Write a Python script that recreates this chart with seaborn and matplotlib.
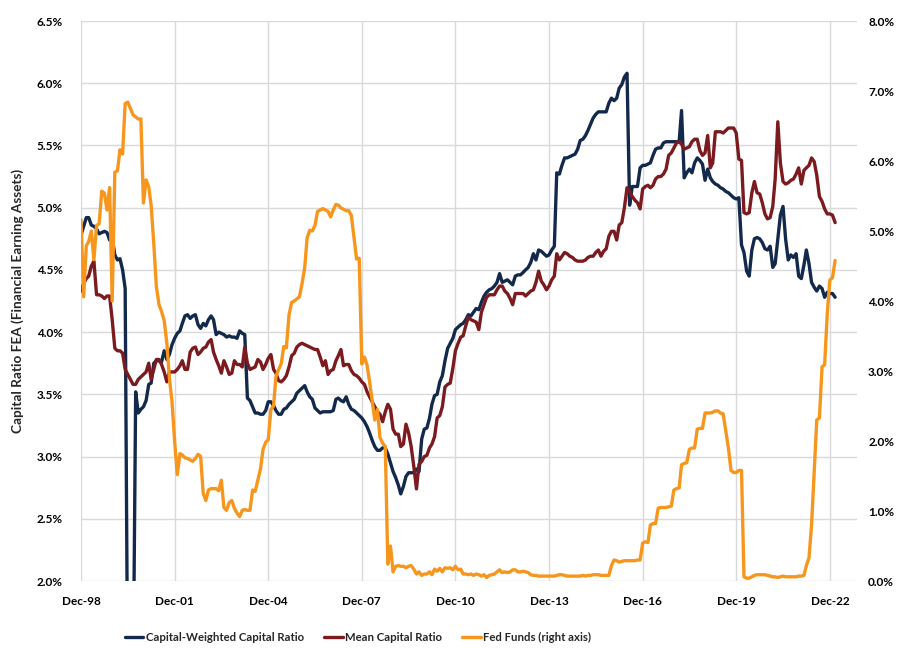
# Capital ratios vs Fed Funds, monthly Dec-98 .. Feb-23
import pandas as pd
import matplotlib
matplotlib.use("Agg")
import matplotlib.pyplot as plt
import matplotlib.dates as mdates
from matplotlib.ticker import FuncFormatter
import seaborn as sns

# ------------------------------------------------------------
# DATA (monthly, first point Dec-98)
# ------------------------------------------------------------
START = "1998-12-01"

cap_weighted = [
    4.78, 4.85, 4.92, 4.92, 4.86, 4.85, 4.83, 4.79, 4.80, 4.81, 4.80, 4.74,
    4.76, 4.62, 4.58, 4.59, 4.50, 4.35, 1.00, 1.00, 1.00, 3.52, 3.35, 3.38,
    3.40, 3.45, 3.58, 3.59, 3.75, 3.77, 3.77, 3.76, 3.85, 3.78, 3.82, 3.90,
    3.95, 3.99, 4.01, 4.07, 4.13, 4.14, 4.11, 4.13, 4.14, 4.06, 4.03, 4.07,
    4.05, 4.10, 4.13, 4.10, 3.98, 4.00, 3.99, 3.98, 3.96, 3.97, 3.96, 3.96,
    3.95, 4.01, 3.99, 3.98, 3.47, 3.45, 3.40, 3.35, 3.35, 3.34, 3.34, 3.37,
    3.44, 3.44, 3.41, 3.37, 3.34, 3.34, 3.38, 3.39, 3.42, 3.44, 3.46, 3.51,
    3.53, 3.55, 3.57, 3.52, 3.48, 3.46, 3.39, 3.37, 3.35, 3.36, 3.36, 3.36,
    3.36, 3.37, 3.46, 3.47, 3.45, 3.44, 3.48, 3.42, 3.38, 3.37, 3.35, 3.33,
    3.31, 3.28, 3.24, 3.19, 3.13, 3.08, 3.05, 3.05, 3.07, 3.07, 3.02, 2.95,
    2.88, 2.83, 2.77, 2.70, 2.76, 2.84, 2.87, 2.87, 2.87, 2.90, 2.88, 3.14,
    3.22, 3.23, 3.31, 3.42, 3.49, 3.50, 3.60, 3.65, 3.77, 3.87, 3.91, 3.95,
    4.02, 4.04, 4.06, 4.07, 4.10, 4.14, 4.13, 4.16, 4.19, 4.18, 4.24, 4.29,
    4.32, 4.34, 4.35, 4.37, 4.40, 4.47, 4.40, 4.41, 4.42, 4.40, 4.38, 4.45,
    4.46, 4.46, 4.48, 4.50, 4.52, 4.56, 4.63, 4.58, 4.66, 4.65, 4.63, 4.61,
    4.62, 4.66, 4.69, 5.28, 5.27, 5.34, 5.40, 5.40, 5.41, 5.42, 5.43, 5.47,
    5.54, 5.55, 5.58, 5.62, 5.67, 5.72, 5.75, 5.77, 5.77, 5.77, 5.77, 5.84,
    5.88, 5.86, 5.88, 5.96, 5.99, 6.05, 6.08, 5.02, 5.17, 5.17, 5.17, 5.32,
    5.34, 5.34, 5.35, 5.36, 5.42, 5.47, 5.48, 5.48, 5.52, 5.53, 5.53, 5.53,
    5.53, 5.53, 5.53, 5.78, 5.24, 5.28, 5.31, 5.28, 5.36, 5.40, 5.38, 5.35,
    5.22, 5.31, 5.24, 5.21, 5.19, 5.18, 5.16, 5.15, 5.13, 5.12, 5.10, 5.08,
    5.07, 5.08, 4.70, 4.64, 4.49, 4.45, 4.66, 4.75, 4.76, 4.75, 4.72, 4.67,
    4.66, 4.69, 4.52, 4.55, 4.75, 4.94, 5.01, 4.75, 4.58, 4.62, 4.60, 4.63,
    4.45, 4.43, 4.54, 4.66, 4.55, 4.40, 4.36, 4.33, 4.37, 4.35, 4.28, 4.32,
    4.31, 4.31, 4.28,
]

mean_ratio = [
    4.33, 4.39, 4.43, 4.45, 4.53, 4.57, 4.30, 4.30, 4.29, 4.27, 4.29, 4.29,
    4.10, 3.87, 3.85, 3.85, 3.83, 3.70, 3.66, 3.62, 3.58, 3.58, 3.62, 3.64,
    3.66, 3.68, 3.75, 3.62, 3.70, 3.78, 3.78, 3.74, 3.68, 3.60, 3.68, 3.68,
    3.68, 3.70, 3.73, 3.77, 3.70, 3.70, 3.84, 3.87, 3.88, 3.82, 3.84, 3.87,
    3.88, 3.92, 3.94, 3.84, 3.78, 3.73, 3.67, 3.77, 3.72, 3.66, 3.67, 3.77,
    3.74, 3.74, 3.72, 3.88, 3.75, 3.70, 3.71, 3.72, 3.78, 3.76, 3.70, 3.74,
    3.79, 3.82, 3.70, 3.67, 3.61, 3.60, 3.62, 3.65, 3.72, 3.81, 3.83, 3.88,
    3.90, 3.91, 3.90, 3.89, 3.88, 3.87, 3.86, 3.86, 3.80, 3.73, 3.77, 3.66,
    3.69, 3.70, 3.77, 3.81, 3.86, 3.73, 3.74, 3.74, 3.69, 3.66, 3.65, 3.63,
    3.60, 3.58, 3.52, 3.48, 3.44, 3.40, 3.36, 3.34, 3.28, 3.36, 3.42, 3.38,
    3.22, 3.18, 3.18, 3.08, 3.10, 3.26, 3.19, 3.08, 2.92, 2.74, 2.94, 2.96,
    3.00, 3.01, 3.07, 3.10, 3.16, 3.31, 3.33, 3.40, 3.56, 3.58, 3.59, 3.71,
    3.85, 3.91, 3.96, 3.97, 4.05, 4.12, 4.10, 4.09, 4.08, 4.02, 4.16, 4.22,
    4.28, 4.30, 4.30, 4.30, 4.34, 4.37, 4.37, 4.33, 4.31, 4.27, 4.22, 4.31,
    4.31, 4.31, 4.31, 4.29, 4.31, 4.33, 4.34, 4.40, 4.49, 4.41, 4.38, 4.34,
    4.37, 4.42, 4.45, 4.63, 4.58, 4.61, 4.64, 4.63, 4.61, 4.60, 4.58, 4.57,
    4.57, 4.57, 4.58, 4.60, 4.61, 4.61, 4.64, 4.66, 4.61, 4.65, 4.67, 4.77,
    4.81, 4.81, 4.74, 4.86, 4.88, 5.00, 5.16, 5.13, 5.09, 5.06, 5.04, 4.99,
    5.15, 5.17, 5.18, 5.16, 5.18, 5.23, 5.25, 5.25, 5.27, 5.31, 5.42, 5.44,
    5.48, 5.52, 5.53, 5.51, 5.47, 5.48, 5.49, 5.53, 5.55, 5.55, 5.46, 5.42,
    5.44, 5.58, 5.32, 5.36, 5.61, 5.61, 5.61, 5.60, 5.62, 5.64, 5.64, 5.64,
    5.60, 5.39, 5.38, 4.96, 4.95, 4.96, 5.12, 5.21, 5.12, 5.11, 5.04, 4.95,
    4.91, 4.92, 5.01, 5.23, 5.69, 5.36, 5.21, 5.19, 5.20, 5.22, 5.23, 5.27,
    5.32, 5.19, 5.30, 5.32, 5.34, 5.40, 5.37, 5.26, 5.09, 5.05, 4.99, 4.95,
    4.95, 4.94, 4.88,
]

fed_funds = [
    5.16, 4.06, 4.79, 4.85, 5.00, 4.59, 5.08, 5.10, 5.57, 5.54, 5.30, 5.62,
    4.00, 5.84, 5.86, 6.16, 6.10, 6.82, 6.84, 6.75, 6.66, 6.63, 6.60, 6.60,
    5.40, 5.73, 5.63, 5.37, 4.82, 4.21, 3.95, 3.85, 3.72, 3.40, 2.90, 2.55,
    2.00, 1.52, 1.82, 1.80, 1.76, 1.75, 1.73, 1.71, 1.75, 1.81, 1.78, 1.25,
    1.15, 1.30, 1.32, 1.32, 1.32, 1.29, 1.44, 1.05, 1.01, 1.12, 1.15, 1.04,
    0.97, 0.92, 1.01, 1.02, 1.01, 1.01, 1.30, 1.28, 1.44, 1.60, 1.88, 1.98,
    2.02, 2.45, 2.50, 2.92, 3.02, 3.10, 3.35, 3.33, 3.80, 3.98, 4.00, 4.03,
    4.06, 4.25, 4.48, 4.90, 5.01, 5.00, 5.08, 5.28, 5.30, 5.32, 5.30, 5.28,
    5.20, 5.30, 5.38, 5.37, 5.33, 5.31, 5.29, 5.29, 5.22, 4.90, 4.60, 4.61,
    3.10, 3.20, 3.08, 2.85, 2.57, 2.30, 2.45, 2.05, 1.97, 1.92, 0.24, 0.50,
    0.13, 0.21, 0.22, 0.21, 0.21, 0.19, 0.21, 0.22, 0.17, 0.10, 0.13, 0.08,
    0.10, 0.10, 0.13, 0.09, 0.17, 0.14, 0.18, 0.13, 0.19, 0.18, 0.19, 0.16,
    0.21, 0.16, 0.17, 0.10, 0.10, 0.09, 0.10, 0.08, 0.10, 0.09, 0.07, 0.09,
    0.05, 0.08, 0.09, 0.10, 0.13, 0.16, 0.12, 0.13, 0.12, 0.13, 0.16, 0.16,
    0.13, 0.13, 0.14, 0.13, 0.12, 0.09, 0.08, 0.08, 0.07, 0.07, 0.07, 0.07,
    0.07, 0.07, 0.07, 0.08, 0.09, 0.09, 0.08, 0.07, 0.07, 0.07, 0.07, 0.07,
    0.07, 0.08, 0.07, 0.08, 0.08, 0.09, 0.09, 0.09, 0.08, 0.08, 0.08, 0.08,
    0.22, 0.30, 0.29, 0.27, 0.28, 0.29, 0.29, 0.29, 0.29, 0.29, 0.30, 0.30,
    0.54, 0.56, 0.55, 0.80, 0.82, 0.82, 1.04, 1.05, 1.05, 1.05, 1.06, 1.07,
    1.30, 1.32, 1.33, 1.66, 1.68, 1.69, 1.88, 1.90, 1.90, 2.17, 2.18, 2.18,
    2.40, 2.40, 2.40, 2.41, 2.43, 2.43, 2.40, 2.39, 2.15, 1.90, 1.58, 1.55,
    1.55, 1.58, 1.58, 0.06, 0.04, 0.04, 0.06, 0.08, 0.09, 0.09, 0.09, 0.09,
    0.08, 0.07, 0.06, 0.06, 0.05, 0.06, 0.07, 0.06, 0.06, 0.06, 0.06, 0.06,
    0.07, 0.07, 0.08, 0.22, 0.33, 0.80, 1.55, 2.30, 2.33, 3.06, 3.09, 3.82,
    4.30, 4.33, 4.58,
]

tick_years = [1998, 2001, 2004, 2007, 2010, 2013, 2016, 2019, 2022]
left_ticks = [2.0, 2.5, 3.0, 3.5, 4.0, 4.5, 5.0, 5.5, 6.0, 6.5]
right_ticks = [0, 1, 2, 3, 4, 5, 6, 7, 8]

labels = ["Capital-Weighted Capital Ratio", "Mean Capital Ratio",
          "Fed Funds (right axis)"]
colors = ["#13294b", "#7b1a1f", "#f7961d"]

# ------------------------------------------------------------
# STYLE
# ------------------------------------------------------------
sns.set_theme(style="white")
plt.rcParams["font.family"] = ["Lato", "DejaVu Sans"]
plt.rcParams["font.weight"] = "bold"
FS = 8.5
GRID = "#d9d9d9"

months = pd.date_range(START, periods=len(cap_weighted), freq="MS")
df = pd.DataFrame({"month": months, "cap": cap_weighted,
                   "mean": mean_ratio, "fed": fed_funds})

W, H = 910, 661
fig = plt.figure(figsize=(W / 100, H / 100), dpi=100)
ax = fig.add_axes([81 / W, 80 / H, (857 - 81) / W, 560 / H])

sns.lineplot(data=df, x="month", y="cap", ax=ax, color=colors[0],
             lw=2.4, label=labels[0], legend=False)
sns.lineplot(data=df, x="month", y="mean", ax=ax, color=colors[1],
             lw=2.4, label=labels[1], legend=False)

ax2 = ax.twinx()
sns.lineplot(data=df, x="month", y="fed", ax=ax2, color=colors[2],
             lw=2.4, label=labels[2], legend=False)

# x axis
xticks = [pd.Timestamp(f"{y}-12-01") for y in tick_years]
ax.set_xlim(pd.Timestamp(START), pd.Timestamp("2023-10-15"))
ax.set_xticks(xticks)
ax.xaxis.set_major_formatter(mdates.DateFormatter("%b-%y"))
ax.set_xlabel("")

# left axis
ax.set_ylim(2.0, 6.5)
ax.set_yticks(left_ticks)
ax.yaxis.set_major_formatter(FuncFormatter(lambda v, p: f"{v:.1f}%"))
ax.set_ylabel("Capital Ratio FEA (Financial Earning Assets)",
              fontsize=9.8, fontweight="bold", labelpad=9)

# right axis
ax2.set_ylim(0, 8)
ax2.set_yticks(right_ticks)
ax2.yaxis.set_major_formatter(FuncFormatter(lambda v, p: f"{v:.1f}%"))
ax2.set_ylabel("")

ax.grid(True, color=GRID, lw=1)
ax2.grid(False)
for a in (ax, ax2):
    for s in a.spines.values():
        s.set_visible(False)
    a.tick_params(length=0, labelsize=FS, colors="black")
ax.tick_params(axis="x", pad=11)
ax.tick_params(axis="y", pad=13)
ax2.tick_params(axis="y", pad=8)

handles = ax.get_lines()[:2] + ax2.get_lines()[:1]
fig.legend(handles, labels, loc="center", bbox_to_anchor=(358 / W, 1 - 637 / H),
           ncol=3, frameon=False, fontsize=8.2, handlelength=1.6,
           handletextpad=0.2, columnspacing=1.8)

fig.savefig("out.png", dpi=100)
